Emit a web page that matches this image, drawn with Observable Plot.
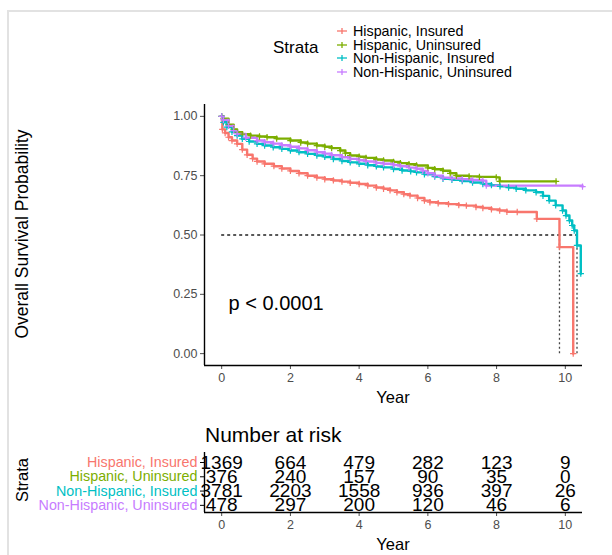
<!DOCTYPE html>
<html>
<head>
<meta charset="utf-8">
<script src="https://cdn.jsdelivr.net/npm/d3@7"></script>
<script src="https://cdn.jsdelivr.net/npm/@observablehq/plot@0.6"></script>
<style>
  html, body { margin: 0; padding: 0; background: #fff; }
  #wrap { position: relative; width: 612px; height: 555px; overflow: hidden; font-family: "Liberation Sans", Arial, sans-serif; }
  #frame { position: absolute; left: 7px; top: 10px; right: -2px; bottom: -2px; border-top: 2px solid #e2e2e2; border-left: 2px solid #e2e2e2; }
  .abs { position: absolute; white-space: nowrap; }
  svg { position: absolute; left: 0; }
</style>
</head>
<body>
<div id="wrap"><div id="frame"></div></div>
<script>
// ---- data ----
const strata = ["Hispanic, Insured", "Hispanic, Uninsured", "Non-Hispanic, Insured", "Non-Hispanic, Uninsured"];
const colors = ["#F8766D", "#7CAE00", "#00BFC4", "#C77CFF"];

const timeHI = [0, 0.02, 0.1, 0.2, 0.3, 0.45, 0.6, 0.74, 0.9, 1.03, 1.25, 1.52, 1.75, 2.0, 2.25, 2.5, 2.77, 3.0, 3.25, 3.5, 3.74, 4.0, 4.25, 4.5, 4.71, 4.9, 5.1, 5.3, 5.48, 5.7, 5.9, 6.06, 6.3, 6.6, 6.9, 7.12, 7.4, 7.6, 7.85, 8.09, 8.3, 8.6, 9.17, 9.83, 10.23];
const survHI = [1.0, 0.945, 0.93, 0.912, 0.898, 0.884, 0.86, 0.838, 0.822, 0.81, 0.8, 0.79, 0.78, 0.77, 0.76, 0.75, 0.742, 0.735, 0.73, 0.725, 0.72, 0.715, 0.708, 0.7, 0.695, 0.688, 0.68, 0.672, 0.666, 0.656, 0.645, 0.638, 0.634, 0.63, 0.626, 0.624, 0.618, 0.614, 0.608, 0.603, 0.598, 0.597, 0.568, 0.449, 0.0];

const timeHU = [0, 0.05, 0.2, 0.35, 0.45, 0.6, 0.84, 1.1, 1.32, 1.6, 2.0, 2.3, 2.5, 2.77, 3.0, 3.2, 3.45, 3.6, 3.74, 4.0, 4.2, 4.5, 4.71, 5.0, 5.2, 5.45, 5.67, 6.0, 6.2, 6.44, 6.65, 6.83, 7.2, 7.5, 7.99, 8.09, 9.73];
const survHU = [1.0, 0.99, 0.965, 0.945, 0.933, 0.925, 0.919, 0.915, 0.912, 0.906, 0.898, 0.89, 0.885, 0.877, 0.872, 0.866, 0.856, 0.845, 0.835, 0.83, 0.825, 0.818, 0.814, 0.808, 0.803, 0.798, 0.793, 0.783, 0.777, 0.771, 0.76, 0.75, 0.747, 0.745, 0.743, 0.726, 0.726];

const timeNI = [0, 0.05, 0.15, 0.3, 0.45, 0.6, 0.8, 1.03, 1.25, 1.5, 1.75, 2.0, 2.25, 2.5, 2.77, 3.0, 3.25, 3.5, 3.74, 4.0, 4.25, 4.5, 4.71, 5.0, 5.25, 5.5, 5.67, 5.9, 6.2, 6.44, 6.7, 7.0, 7.3, 7.6, 7.85, 8.1, 8.35, 8.57, 8.85, 9.15, 9.35, 9.53, 9.72, 9.92, 10.02, 10.12, 10.2, 10.26, 10.34, 10.45];
const survNI = [1.0, 0.975, 0.955, 0.935, 0.919, 0.905, 0.894, 0.884, 0.877, 0.87, 0.863, 0.856, 0.849, 0.842, 0.835, 0.829, 0.82, 0.812, 0.806, 0.8, 0.794, 0.789, 0.785, 0.778, 0.772, 0.768, 0.764, 0.756, 0.746, 0.737, 0.733, 0.727, 0.721, 0.715, 0.71, 0.705, 0.7, 0.695, 0.688, 0.68, 0.665, 0.645, 0.625, 0.603, 0.582, 0.561, 0.54, 0.519, 0.456, 0.337];

const timeNU = [0, 0.05, 0.2, 0.35, 0.45, 0.7, 1.03, 1.25, 1.5, 1.75, 2.0, 2.25, 2.5, 2.77, 3.0, 3.2, 3.5, 3.74, 4.0, 4.2, 4.5, 4.71, 5.0, 5.2, 5.45, 5.67, 5.85, 6.0, 6.2, 6.44, 6.7, 7.0, 7.3, 7.6, 7.7, 10.5];
const survNU = [1.0, 0.985, 0.96, 0.94, 0.926, 0.91, 0.898, 0.891, 0.885, 0.878, 0.872, 0.865, 0.857, 0.849, 0.843, 0.836, 0.828, 0.821, 0.815, 0.81, 0.804, 0.80, 0.795, 0.79, 0.784, 0.779, 0.77, 0.76, 0.75, 0.741, 0.738, 0.735, 0.732, 0.729, 0.708, 0.704];

const medianTimes = [9.83, 10.34];
const medianSurv = 0.5;
const pLabel = "p < 0.0001";

const riskTimes = [0, 2, 4, 6, 8, 10];
const riskHI = [1369, 664, 479, 282, 123, 9];
const riskHU = [376, 240, 157, 90, 35, 0];
const riskNI = [3781, 2203, 1558, 936, 397, 26];
const riskNU = [478, 297, 200, 120, 46, 6];

const xTicks = [0, 2, 4, 6, 8, 10];
const yTicks = [0, 0.25, 0.5, 0.75, 1.0];

// ---- build tables ----
const curves = [[timeHI, survHI], [timeHU, survHU], [timeNI, survNI], [timeNU, survNU]];
const rows = [];
curves.forEach(([ts, ss], i) => ts.forEach((t, j) => rows.push({strata: strata[i], t, s: ss[j]})));
const risks = [riskHI, riskHU, riskNI, riskNU];
const riskRows = [];
risks.forEach((arr, i) => arr.forEach((n, j) => riskRows.push({strata: strata[i], row: i, t: riskTimes[j], n})));
const labelRows = strata.map((s, i) => ({strata: s, row: i}));

const FONT = "Liberation Sans, Arial, sans-serif";
const wrap = document.getElementById("wrap");
const color = {domain: strata, range: colors};

// ---- main survival plot ----
const main = Plot.plot({
  width: 612, height: 410,
  marginLeft: 204, marginRight: 30, marginTop: 104, marginBottom: 45,
  style: {fontFamily: FONT, background: "transparent", overflow: "visible"},
  x: {domain: [-0.5, 10.5]},
  y: {domain: [-0.05, 1.05]},
  color,
  marks: [
    Plot.ruleY([medianSurv], {x1: 0, x2: medianTimes[1], stroke: "#222", strokeDasharray: "3,3", strokeWidth: 1.3}),
    Plot.ruleX(medianTimes, {y1: 0, y2: medianSurv, stroke: "#444", strokeDasharray: "2,2.5", strokeWidth: 1.3}),
    Plot.line(rows, {x: "t", y: "s", z: "strata", stroke: "strata", curve: "step-after", strokeWidth: 2.4}),
    Plot.dot(rows, {x: "t", y: "s", stroke: "strata", symbol: "plus", r: 2.2, strokeWidth: 1.2}),
    Plot.text([pLabel], {x: 0.2, y: 0.21, text: d => d, textAnchor: "start", fontSize: 20, fill: "#000"}),
    Plot.axisX({ticks: xTicks, tickSize: 4, tickPadding: 4, fontSize: 12.5, color: "#4d4d4d", label: null}),
    Plot.axisY({ticks: yTicks, tickFormat: d3.format(".2f"), tickSize: 4, tickPadding: 3, fontSize: 12.5, color: "#4d4d4d", label: null}),
    Plot.ruleX([-0.5], {stroke: "#000", strokeWidth: 1.4}),
    Plot.ruleY([-0.05], {stroke: "#000", strokeWidth: 1.4})
  ]
});
main.style.top = "0px";
wrap.appendChild(main);

// ---- risk table ----
const risk = Plot.plot({
  width: 612, height: 145,
  marginLeft: 204, marginRight: 30, marginTop: 42, marginBottom: 43,
  style: {fontFamily: FONT, background: "transparent", overflow: "visible"},
  x: {domain: [-0.5, 10.5]},
  y: {domain: [3.5, -0.7]},
  color,
  marks: [
    Plot.text(riskRows, {x: "t", y: "row", text: d => String(d.n), fill: "#000", fontSize: 19, fontFamily: "Liberation Sans Narrow, Arial Narrow, sans-serif"}),
    Plot.text(labelRows, {y: "row", text: "strata", fill: "strata", frameAnchor: "left", textAnchor: "end", dx: -7, fontSize: 14.3}),
    Plot.axisX({ticks: xTicks, tickSize: 4, tickPadding: 4, fontSize: 12.5, color: "#4d4d4d", label: null}),
    Plot.axisY({ticks: [0, 1, 2, 3], tickFormat: () => "", tickSize: 4, label: null}),
    Plot.ruleX([-0.5], {stroke: "#000", strokeWidth: 1.4}),
    Plot.ruleY([3.5], {stroke: "#000", strokeWidth: 1.4})
  ]
});
risk.style.top = "410px";
wrap.appendChild(risk);

// ---- text overlays (titles, legend) ----
function addText(txt, css) {
  const d = document.createElement("div");
  d.className = "abs";
  d.textContent = txt;
  Object.assign(d.style, css);
  wrap.appendChild(d);
  return d;
}
addText("Overall Survival Probability", {left: "22px", top: "234px", fontSize: "17.5px", color: "#000", transform: "translate(-50%,-50%) rotate(-90deg)"});
addText("Year", {left: "393px", top: "397px", fontSize: "16.5px", color: "#000", transform: "translate(-50%,-50%)"});
addText("Number at risk", {left: "205px", top: "435px", fontSize: "21px", color: "#000", transform: "translate(0,-50%)"});
addText("Strata", {left: "22px", top: "480px", fontSize: "16.5px", color: "#000", transform: "translate(-50%,-50%) rotate(-90deg)"});
addText("Year", {left: "393px", top: "544px", fontSize: "16.5px", color: "#000", transform: "translate(-50%,-50%)"});
addText("Strata", {left: "273px", top: "48px", fontSize: "17px", color: "#000", transform: "translate(0,-50%)"});

strata.forEach((s, i) => {
  const y = 31 + i * 13.6;
  const d = document.createElement("div");
  d.className = "abs";
  Object.assign(d.style, {left: "334px", top: y + "px", transform: "translate(0,-50%)", display: "flex", alignItems: "center", fontSize: "14.3px", lineHeight: "14px", color: "#000"});
  d.innerHTML = `<svg width="16" height="10" style="position:static;margin-right:3px"><line x1="3" y1="5" x2="13" y2="5" stroke="${colors[i]}" stroke-width="1.3"/><line x1="8" y1="2" x2="8" y2="8" stroke="${colors[i]}" stroke-width="1.3"/></svg>`;
  const span = document.createElement("span");
  span.textContent = s;
  d.appendChild(span);
  wrap.appendChild(d);
});
</script>
</body>
</html>
